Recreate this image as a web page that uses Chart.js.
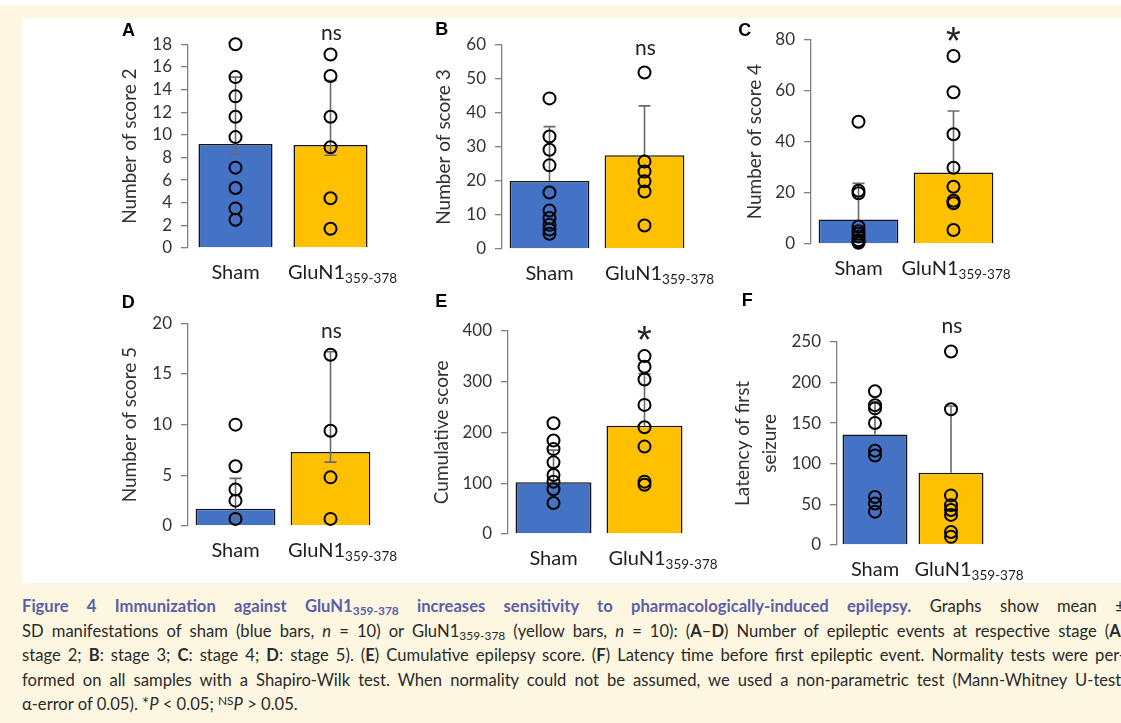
<!DOCTYPE html>
<html>
<head>
<meta charset="utf-8">
<script src="https://cdn.jsdelivr.net/npm/chart.js@4.4.0/dist/chart.umd.min.js"></script>
<style>
  html, body { margin: 0; padding: 0; width: 1121px; height: 723px; overflow: hidden; background: #fdf7e1; }
  #topStrip { position: absolute; left: 0; top: 0; width: 1121px; height: 5px; background: #fff; }
  #figure { position: absolute; left: 22px; top: 18px; width: 1110px; height: 565px; background: #fff; }
  canvas { position: absolute; }
  #caption { position: absolute; left: 22px; top: 594px; width: 1103px; font-family: Lato, sans-serif; font-size: 16.6px; color: #2a2a2a; line-height: 24.6px; }
  .ln { white-space: nowrap; text-align: justify; text-align-last: justify; }
  .ln.last { text-align-last: left; }
  .ttl { color: #5b5eaa; font-weight: bold; }
  sub { font-size: 0.72em; vertical-align: -0.28em; line-height: 0; }
  sup { font-size: 0.72em; vertical-align: 0.45em; line-height: 0; }
</style>
</head>
<body>
<div id="topStrip"></div>
<div id="figure"></div>
<div id="caption">
  <div class="ln"><span class="ttl">Figure 4 Immunization against GluN1<sub>359-378</sub> increases sensitivity to pharmacologically-induced epilepsy.</span> Graphs show mean ±</div>
  <div class="ln">SD manifestations of sham (blue bars, <i>n</i> = 10) or GluN1<sub>359-378</sub> (yellow bars, <i>n</i> = 10): (<b>A</b>–<b>D</b>) Number of epileptic events at respective stage (<b>A</b>:</div>
  <div class="ln">stage 2; <b>B</b>: stage 3; <b>C</b>: stage 4; <b>D</b>: stage 5). (<b>E</b>) Cumulative epilepsy score. (<b>F</b>) Latency time before first epileptic event. Normality tests were per-</div>
  <div class="ln">formed on all samples with a Shapiro-Wilk test. When normality could not be assumed, we used a non-parametric test (Mann-Whitney U-test,</div>
  <div class="ln last">α-error of 0.05). *<i>P</i> &lt; 0.05; <sup>NS</sup><i>P</i> &gt; 0.05.</div>
</div>
<script>
// Groups on the x axis
const categories = ['Sham', 'GluN1'];
const categorySubscripts = ['', '359-378'];

// Panel names, axis titles and significance marks
const panelLetters = ['A', 'B', 'C', 'D', 'E', 'F'];
const yTitles = [
  'Number of score 2',
  'Number of score 3',
  'Number of score 4',
  'Number of score 5',
  'Cumulative score',
  ['Latency of first', 'seizure']
];
const significance = ['ns', 'ns', '*', 'ns', '*', 'ns'];
const yMaxes = [18, 60, 80, 20, 400, 250];
const ySteps = [2, 10, 20, 5, 100, 50];

// Bar heights (mean) per panel: [Sham, GluN1]
const meansA = [9.2, 9.1];
const meansB = [20, 27.6];
const meansC = [9.6, 27.9];
const meansD = [1.7, 7.3];
const meansE = [102, 213];
const meansF = [136, 89];

// Error bar ranges [low, high] per group
const errorsA = [[8.3, 15.1], [8.2, 14.8]];
const errorsB = [[20, 36], [27.6, 42.1]];
const errorsC = [[9.6, 23.7], [27.9, 52]];
const errorsD = [[0.8, 4.7], [6.3, 17.2]];
const errorsE = [[102, 165], [213, 315]];
const errorsF = [[136, 176], [89, 171]];

// Individual animals (open circles)
const shamA = [18, 15.1, 13.4, 11.6, 9.8, 7.1, 5.3, 3.5, 2.5];
const gluA = [17.1, 15.2, 11.6, 8.9, 4.4, 1.7];
const shamB = [44.3, 33.1, 29.2, 24.6, 16.6, 11.3, 9.1, 7.1, 5.7, 4.5];
const gluB = [51.9, 25.7, 22.8, 19.9, 16.9, 6.9];
const shamC = [47.8, 20.8, 19.8, 6.8, 5, 4, 2.9, 1.5, 0.9, 0.5];
const gluC = [73.5, 59.3, 42.9, 29.8, 22.4, 16.9, 15.9, 5.5];
const shamD = [10, 5.9, 3.6, 2.5, 0.7];
const gluD = [16.9, 9.4, 4.8, 0.7];
const shamE = [218, 184, 167, 141, 116, 103, 88, 61];
const gluE = [350, 329, 304, 254, 210, 172, 103, 97];
const shamF = [189, 172, 168, 150, 116, 110, 59, 51, 41];
const gluF = [238, 167, 61, 49, 43, 37, 16, 10];

const allMeans = [meansA, meansB, meansC, meansD, meansE, meansF];
const allErrors = [errorsA, errorsB, errorsC, errorsD, errorsE, errorsF];
const allSham = [shamA, shamB, shamC, shamD, shamE, shamF];
const allGlu = [gluA, gluB, gluC, gluD, gluE, gluF];

// Page placement of each panel (pixels)
const layout = [
  { top: 12,  axisX: 188,   plotRight: 378,   yTop: 44.3,  y0: 248.3, titleX: 130,   letterX: 122, letterY: 31,    sigY: 40,    labelShift: 12,  barPct: 0.78 },
  { top: 12,  axisX: 501.7, plotRight: 691.7, yTop: 45,    y0: 249.3, titleX: 444,   letterX: 435, letterY: 30,    sigY: 55,    labelShift: 15,  barPct: 0.84 },
  { top: 12,  axisX: 810.7, plotRight: 1000.7,yTop: 39.3,  y0: 244,   titleX: 754.5, letterX: 738, letterY: 31,    sigY: 34,    labelShift: 2.5, barPct: 0.84 },
  { top: 288, axisX: 188.3, plotRight: 378.3, yTop: 323.3, y0: 526,   titleX: 130,   letterX: 122, letterY: 303,   sigY: 338,   labelShift: 12,  barPct: 0.84 },
  { top: 288, axisX: 507.7, plotRight: 689.7, yTop: 330.7, y0: 534.3, titleX: 441.7, letterX: 435, letterY: 302.5, sigY: 332.5, labelShift: 18.5,barPct: 0.835 },
  { top: 288, axisX: 837.3, plotRight: 989.3, yTop: 341.7, y0: 545,   titleX: 743.5, letterX: 742, letterY: 301,   sigY: 333,   labelShift: 18,  barPct: 0.855 }
];

const AXIS_BOX = 110;     // width reserved left of the y axis
const LABEL_BOX = 45;     // height reserved under the plot
const RIGHT_PAD = 45;
const TITLE_SIZE = 19;
const TITLE_LH = 1.4;
const textColor = '#333333';
const axisColor = '#808080';

// Error bars, panel letter, significance and x labels
function makeOverlay(p) {
  const L = layout[p];
  const left = L.axisX - AXIS_BOX;
  return {
    id: 'overlay' + p,
    afterDatasetDraw(chart, args) {
      if (args.index !== 0) return;
      const { ctx } = chart;
      const x = chart.scales.x, y = chart.scales.y;
      ctx.save();
      ctx.strokeStyle = '#6a6a6a';
      ctx.lineWidth = 1.6;
      allErrors[p].forEach(([lo, hi], i) => {
        const cx = x.getPixelForValue(i);
        const yl = y.getPixelForValue(lo);
        const yh = y.getPixelForValue(hi);
        ctx.beginPath();
        ctx.moveTo(cx, yl);
        ctx.lineTo(cx, yh);
        ctx.moveTo(cx - 6, yh);
        ctx.lineTo(cx + 6, yh);
        if (lo < allMeans[p][i]) {
          ctx.moveTo(cx - 6, yl);
          ctx.lineTo(cx + 6, yl);
        }
        ctx.stroke();
      });
      ctx.restore();
    },
    afterDraw(chart) {
      const { ctx } = chart;
      const x = chart.scales.x, y = chart.scales.y;
      ctx.save();
      // panel letter
      ctx.fillStyle = '#000';
      ctx.font = 'bold 18px "Liberation Sans", Arial, sans-serif';
      ctx.textBaseline = 'middle';
      ctx.textAlign = 'left';
      ctx.fillText(panelLetters[p], L.letterX - left, L.letterY - L.top);

      // significance above the GluN1 bar
      const gx = x.getPixelForValue(1);
      ctx.fillStyle = '#222';
      ctx.textAlign = 'center';
      ctx.textBaseline = 'alphabetic';
      if (significance[p] === '*') {
        ctx.font = '38px "Liberation Sans", Arial, sans-serif';
        const m = ctx.measureText('*');
        const mid = (m.actualBoundingBoxAscent - m.actualBoundingBoxDescent) / 2;
        ctx.fillText('*', gx, L.sigY - L.top + mid);
      } else {
        ctx.font = '21px Lato, sans-serif';
        ctx.fillText(significance[p], gx + 1, L.sigY - L.top);
      }

      // x labels with subscript
      const base = y.getPixelForValue(0) + 31;
      ctx.fillStyle = '#1e1e1e';
      ctx.textAlign = 'left';
      categories.forEach((name, i) => {
        const cx = x.getPixelForValue(i);
        ctx.font = '20px Lato, sans-serif';
        const w1 = ctx.measureText(name).width;
        ctx.font = '13.5px Lato, sans-serif';
        const w2 = categorySubscripts[i] ? ctx.measureText(categorySubscripts[i]).width : 0;
        const shift = i === 1 ? L.labelShift : 0;
        const start = cx + shift - (w1 + w2) / 2;
        ctx.font = '20px Lato, sans-serif';
        ctx.fillText(name, start, base);
        if (w2) {
          ctx.font = '13.5px Lato, sans-serif';
          ctx.fillText(categorySubscripts[i], start + w1, base + 4);
        }
      });
      ctx.restore();
    }
  };
}

function pointSet(values, cat) {
  return {
    type: 'line',
    data: values.map(v => ({ x: cat, y: v })),
    showLine: false,
    pointRadius: 6,
    pointBorderWidth: 2,
    pointBorderColor: '#000',
    pointBackgroundColor: 'rgba(0,0,0,0)',
    clip: false,
    order: 1
  };
}

layout.forEach((L, p) => {
  const left = L.axisX - AXIS_BOX;
  const width = L.plotRight + RIGHT_PAD - left;
  const height = L.y0 + LABEL_BOX - L.top;
  const canvas = document.createElement('canvas');
  canvas.width = width;
  canvas.height = height;
  canvas.style.left = left + 'px';
  canvas.style.top = L.top + 'px';
  canvas.style.width = width + 'px';
  canvas.style.height = height + 'px';
  document.body.appendChild(canvas);

  const titleLineHeight = TITLE_SIZE * TITLE_LH;

  new Chart(canvas.getContext('2d'), {
    type: 'bar',
    data: {
      labels: categories,
      datasets: [
        {
          data: allMeans[p],
          backgroundColor: ['#4472C4', '#FFC000'],
          borderColor: '#151515',
          borderWidth: 1.6,
          categoryPercentage: 1,
          barPercentage: L.barPct,
          order: 3
        },
        pointSet(allSham[p], categories[0]),
        pointSet(allGlu[p], categories[1])
      ]
    },
    options: {
      responsive: false,
      animation: false,
      devicePixelRatio: 1,
      layout: { padding: { left: 0, top: L.yTop - L.top, right: RIGHT_PAD, bottom: 0 } },
      plugins: { legend: { display: false }, tooltip: { enabled: false } },
      scales: {
        x: {
          offset: true,
          grid: { display: false },
          border: { display: false },
          ticks: { display: false },
          afterFit: s => { s.height = LABEL_BOX; }
        },
        y: {
          min: 0,
          max: yMaxes[p],
          ticks: {
            stepSize: ySteps[p],
            autoSkip: false,
            color: textColor,
            font: { family: 'Lato', size: 17 },
            padding: 9
          },
          grid: {
            drawOnChartArea: false,
            drawTicks: true,
            tickLength: 7,
            color: axisColor,
            lineWidth: 1.3
          },
          border: { display: true, color: axisColor, width: 1.3 },
          title: {
            display: true,
            text: yTitles[p],
            color: textColor,
            font: { family: 'Lato', size: TITLE_SIZE, lineHeight: TITLE_LH },
            padding: { top: L.titleX - left - titleLineHeight / 2, bottom: 0 }
          },
          afterFit: s => { s.width = AXIS_BOX; }
        }
      }
    },
    plugins: [makeOverlay(p)]
  });
});
</script>
</body>
</html>
